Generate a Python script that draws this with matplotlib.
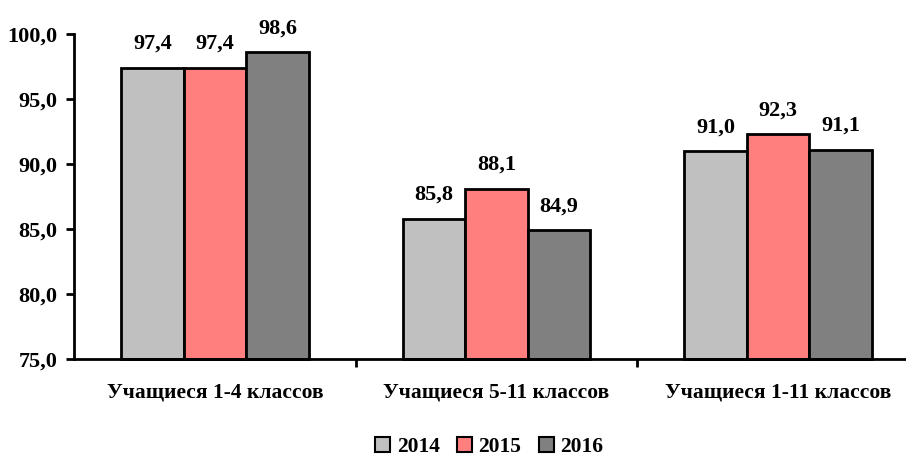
import matplotlib
matplotlib.use("Agg")
import matplotlib.pyplot as plt
import numpy as np
from matplotlib.patches import Patch

categories = ["Учащиеся 1-4 классов", "Учащиеся 5-11 классов", "Учащиеся 1-11 классов"]
years = ["2014", "2015", "2016"]
values_2014 = [97.4, 85.8, 91.0]
values_2015 = [97.4, 88.1, 92.3]
values_2016 = [98.6, 84.9, 91.1]
series = [values_2014, values_2015, values_2016]
colors = ["#C0C0C0", "#FF7F7F", "#808080"]
yticks = [75.0, 80.0, 85.0, 90.0, 95.0, 100.0]

plt.rcParams["font.family"] = ["Liberation Serif", "DejaVu Serif"]
plt.rcParams["font.weight"] = "bold"

fig = plt.figure(figsize=(9.06, 4.57), dpi=100)
ax = fig.add_axes([0.0817, 0.2144, 0.9327, 0.7112])

x = np.arange(len(categories))
w = 0.222
for i, (vals, col) in enumerate(zip(series, colors)):
    pos = x + (i - 1) * w
    ax.bar(pos, [v - 75 for v in vals], bottom=75, width=w, color=col,
           edgecolor="black", linewidth=2.0, zorder=2, clip_on=False)
    for px, v in zip(pos, vals):
        ax.annotate(f"{v:.1f}".replace(".", ","), (px, v), xytext=(0, 10),
                    textcoords="offset points", ha="center", va="bottom",
                    fontsize=16, fontweight="bold")

ax.set_xlim(-0.5, 2.5)
ax.set_ylim(75, 100)
ax.set_yticks(yticks)
ax.set_yticklabels([f"{t:.1f}".replace(".", ",") for t in yticks],
                   fontsize=16, fontweight="bold")
ax.set_xticks([0.5, 1.5])
ax.set_xticklabels([])
ax.set_xticks(x, minor=True)
ax.set_xticklabels(categories, minor=True, fontsize=15.5, fontweight="bold")
ax.tick_params(axis="x", which="minor", length=0, pad=17)
ax.tick_params(axis="x", which="major", length=6, width=2, direction="out")
ax.tick_params(axis="y", length=6, width=2, direction="out", pad=6)

for s in ["top", "right"]:
    ax.spines[s].set_visible(False)
for s in ["left", "bottom"]:
    ax.spines[s].set_linewidth(2)

handles = [Patch(facecolor=c, edgecolor="black", linewidth=1.5) for c in colors]
fig.legend(handles, years, loc="center", bbox_to_anchor=(0.54, 0.022), ncol=3,
           frameon=False, handlelength=0.7, handleheight=0.7,
           handletextpad=0.3, columnspacing=0.8,
           prop={"weight": "bold", "size": 15.5})

fig.savefig("out.png", dpi=100)
